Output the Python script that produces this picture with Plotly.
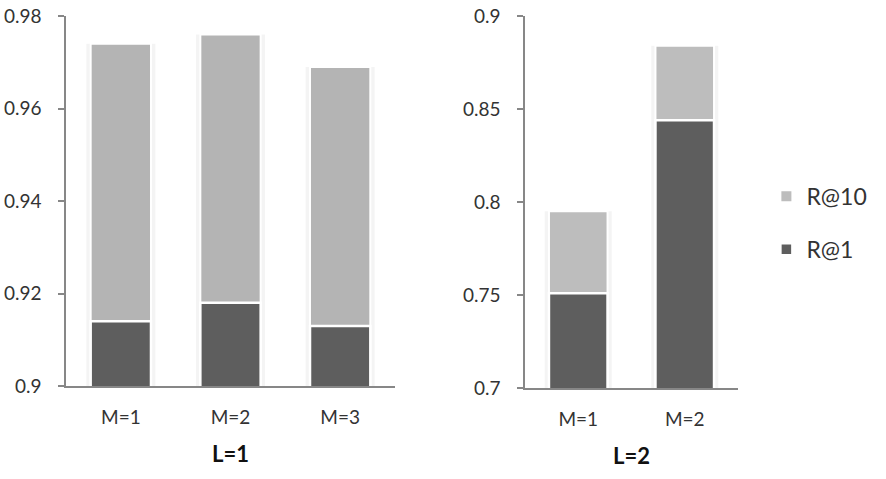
import plotly.graph_objects as go
from plotly.subplots import make_subplots

# Data
cats_l1 = ["M=1", "M=2", "M=3"]
r10_l1 = [0.974, 0.976, 0.969]
r1_l1 = [0.914, 0.918, 0.913]

cats_l2 = ["M=1", "M=2"]
r10_l2 = [0.795, 0.884]
r1_l2 = [0.751, 0.844]

yticks_l1 = [0.9, 0.92, 0.94, 0.96, 0.98]
yticklabels_l1 = ["0.9", "0.92", "0.94", "0.96", "0.98"]
yticks_l2 = [0.7, 0.75, 0.8, 0.85, 0.9]
yticklabels_l2 = ["0.7", "0.75", "0.8", "0.85", "0.9"]

LIGHT_L = "#b4b4b4"
LIGHT_R = "#bdbdbd"
DARK = "#5e5e5e"
AXIS = "#878787"
TXT = "#333333"
FONT = "Lato"

fig = make_subplots(rows=1, cols=2)

def add_group(cats, r10, r1, col, light, legend):
    # soft shadow behind bars
    fig.add_trace(go.Bar(x=cats, y=r10, width=0.63, marker=dict(color="rgba(0,0,0,0.045)", line=dict(width=0)),
                         showlegend=False, hoverinfo="skip"), row=1, col=col)
    fig.add_trace(go.Bar(x=cats, y=r10, width=0.55, name="R@10", legendgroup="g10", showlegend=legend,
                         marker=dict(color=light, line=dict(color="white", width=2))), row=1, col=col)
    fig.add_trace(go.Bar(x=cats, y=r1, width=0.55, name="R@1", legendgroup="g1", showlegend=legend,
                         marker=dict(color=DARK, line=dict(color="white", width=2.5))), row=1, col=col)

add_group(cats_l1, r10_l1, r1_l1, 1, LIGHT_L, False)
add_group(cats_l2, r10_l2, r1_l2, 2, LIGHT_R, True)

W, H = 886, 479
mt, mb = 16, 91
ph = H - mt - mb

fig.update_layout(
    width=W, height=H, barmode="overlay",
    margin=dict(l=0, r=0, t=mt, b=mb),
    paper_bgcolor="white", plot_bgcolor="white",
    font=dict(family=FONT, size=19, color=TXT),
    legend=dict(x=0.865, y=0.573, xanchor="left", yanchor="top", tracegroupgap=20,
                font=dict(size=23, color=TXT), bgcolor="rgba(0,0,0,0)"),
    showlegend=True,
)

xcommon = dict(showline=True, linecolor=AXIS, linewidth=1.5, ticks="", showgrid=False,
               tickfont=dict(size=19, color=TXT), ticklabelstandoff=13)
fig.update_xaxes(domain=[66 / W, 395 / W], title=dict(text="<b>L=1</b>", font=dict(size=22, color="#111"), standoff=20),
                 row=1, col=1, **xcommon)
fig.update_xaxes(domain=[525 / W, 738 / W], title=dict(text="<b>L=2</b>", font=dict(size=22, color="#111"), standoff=20),
                 row=1, col=2, **xcommon)

ycommon = dict(showline=True, linecolor=AXIS, linewidth=1.5, ticks="outside", ticklen=6, tickwidth=1.5,
               tickcolor=AXIS, showgrid=False, zeroline=False, tickfont=dict(size=19, color=TXT),
               ticklabelstandoff=13)
fig.update_yaxes(range=[0.9, 0.98], tickvals=yticks_l1, ticktext=yticklabels_l1,
                 domain=[2 / ph, 1], row=1, col=1, **ycommon)
fig.update_yaxes(range=[0.7, 0.9], tickvals=yticks_l2, ticktext=yticklabels_l2,
                 domain=[0, 1], row=1, col=2, **ycommon)

fig.write_html("out.html")
